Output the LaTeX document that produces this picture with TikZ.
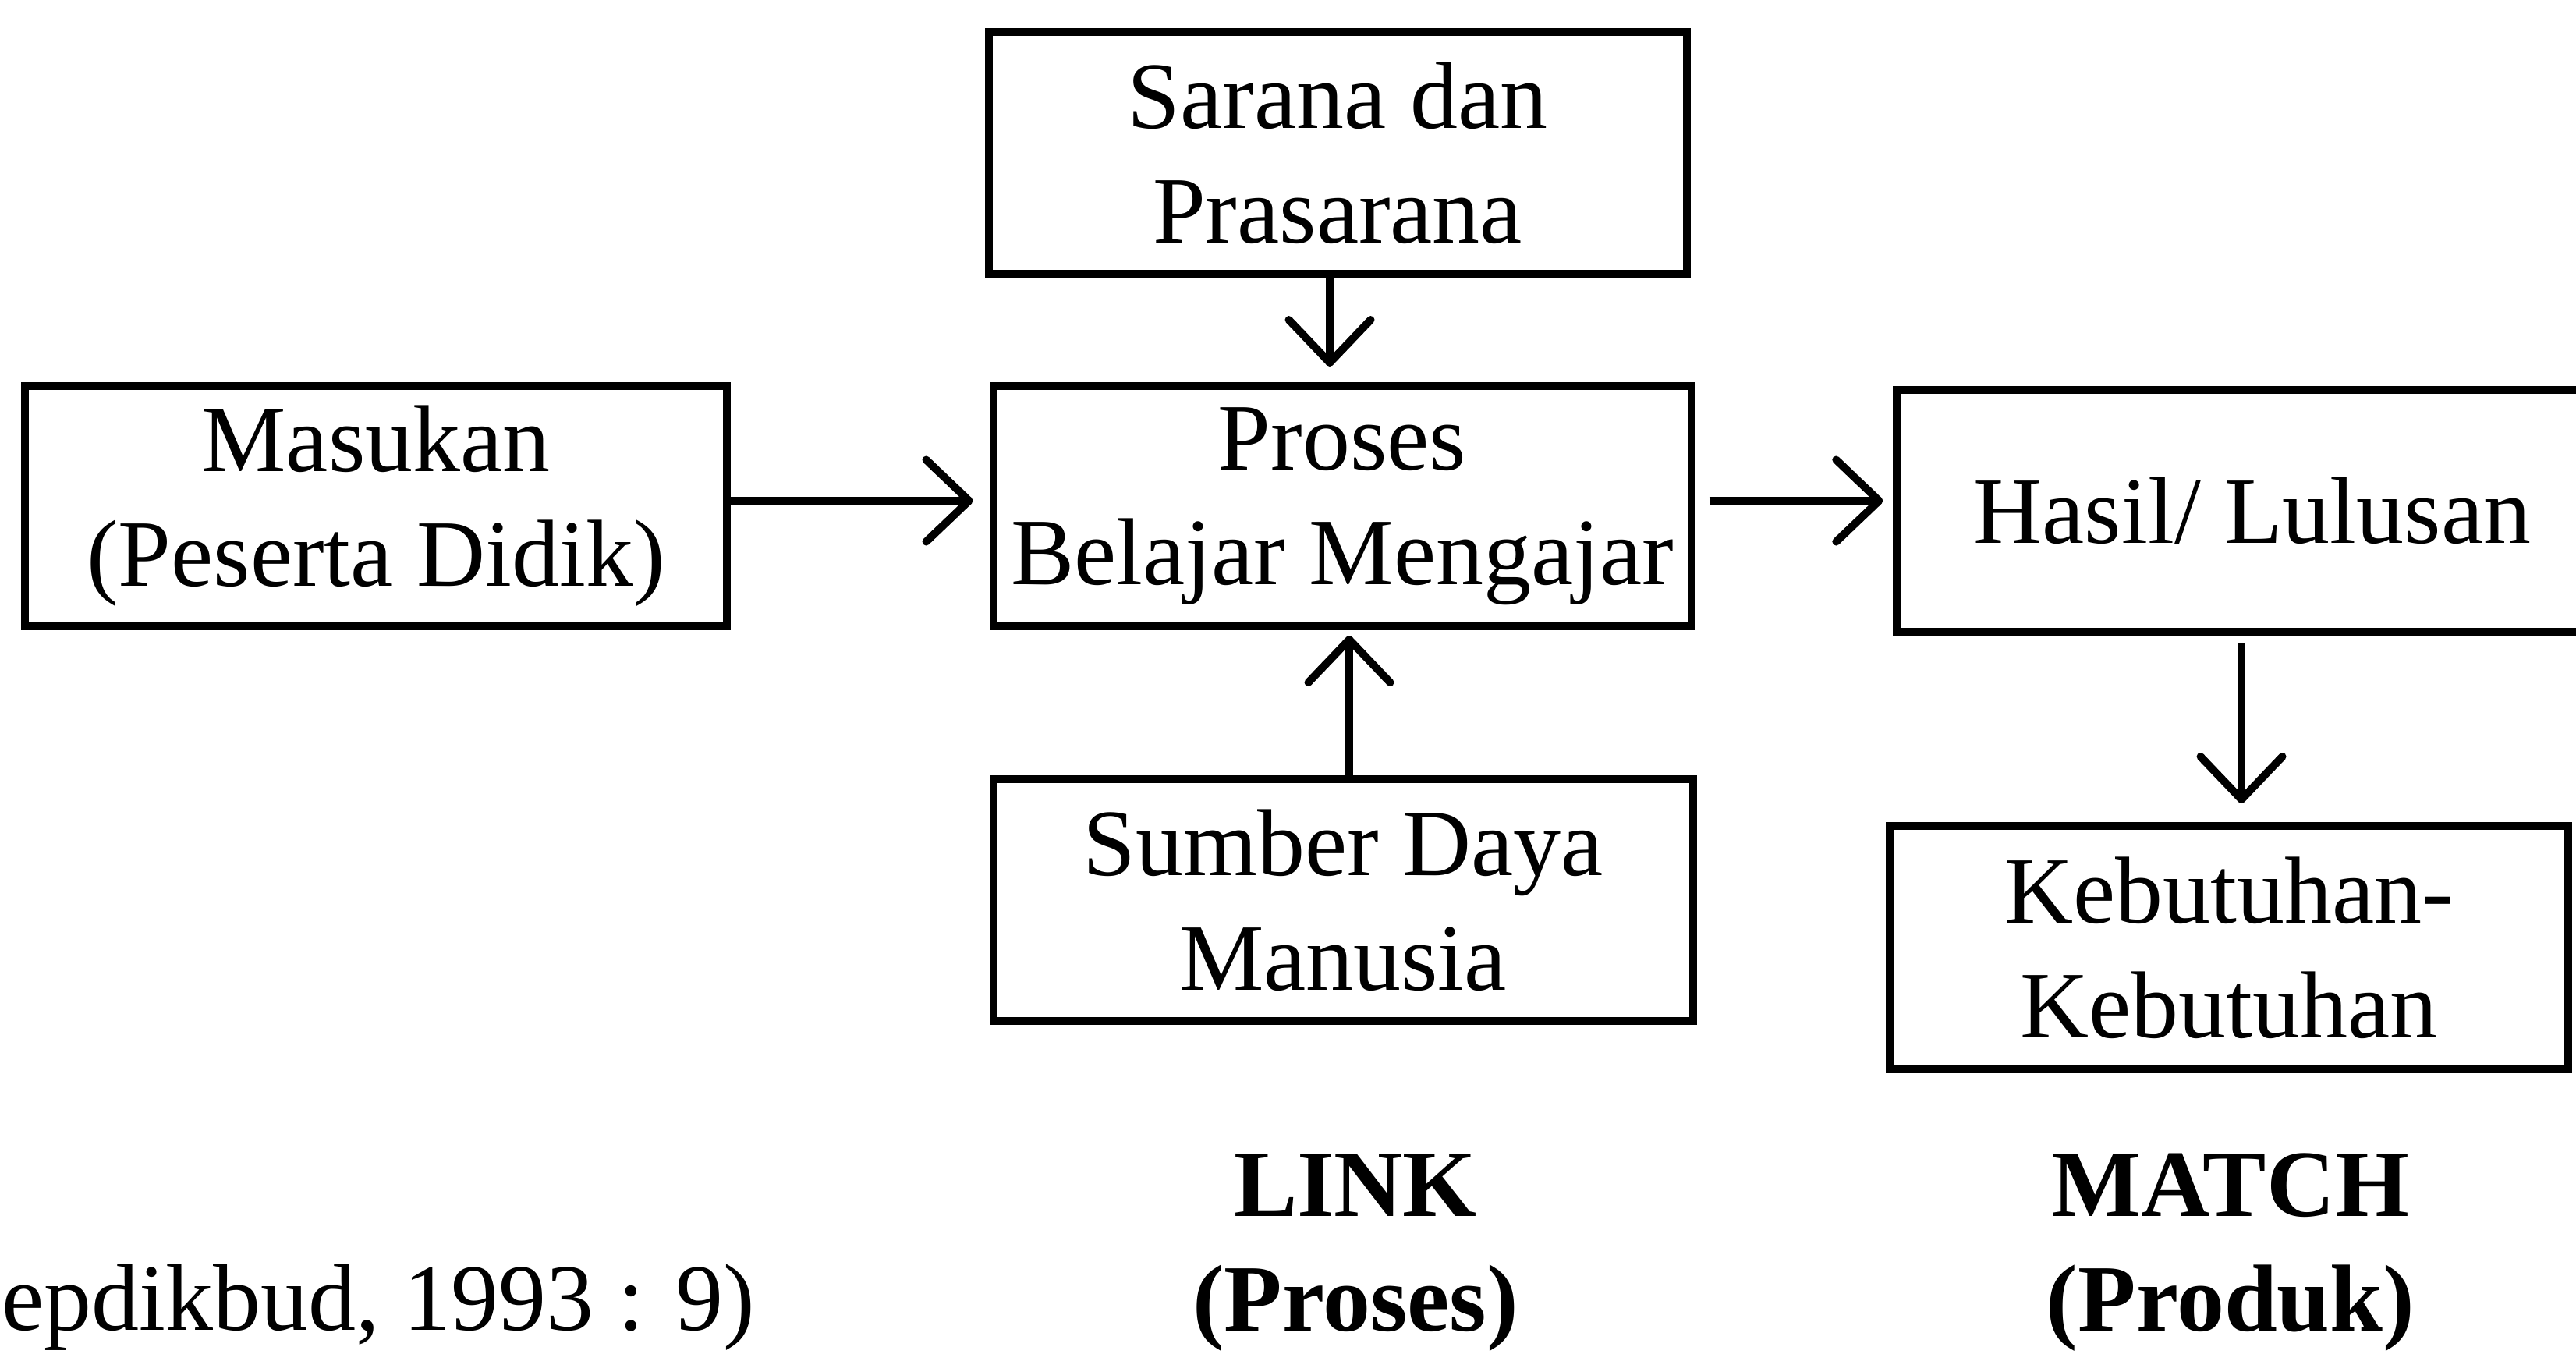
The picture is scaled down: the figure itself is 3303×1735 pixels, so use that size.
\documentclass[tikz,border=0pt]{standalone}
\usepackage{fontspec}
\setmainfont{Liberation Serif}
\usetikzlibrary{arrows.meta}
\tikzset{
  box/.style={draw, line width=1mm, inner sep=0pt, align=center,
    font=\fontsize{34.7pt}{41.8pt}\selectfont},
  openbox/.style={inner sep=0pt, align=center,
    font=\fontsize{34.7pt}{41.8pt}\selectfont},
  edge/.style={line width=1mm, line join=miter},
  lbl/.style={inner sep=0pt, align=center,
    font=\fontsize{34.7pt}{41.8pt}\selectfont\bfseries},
  note/.style={inner sep=0pt, font=\fontsize{34.7pt}{41.8pt}\selectfont},
  arr/.style={line width=1mm, -{Straight Barb[length=5.5mm,width=10.5mm,line cap=round,line join=round]}}
}
\begin{document}
\begin{tikzpicture}[x=0.1mm,y=-0.1mm]
\useasboundingbox (0,0) rectangle (3303,1735);
% boxes
\node[box, minimum width=90mm, minimum height=30.8mm] (masuk) at (482,649) {Masukan\\(Peserta Didik)};
\node[box, minimum width=89.5mm, minimum height=31mm] (sarana) at (1715,196) {Sarana dan\\Prasarana};
\node[box, minimum width=89.5mm, minimum height=30.8mm] (proses) at (1721,649) {Proses\\Belajar Mengajar};
\node[box, minimum width=89.7mm, minimum height=31mm] (sumber) at (1722,1154) {Sumber Daya\\Manusia};
\node[openbox, minimum width=87mm, minimum height=30.8mm] (hasil) at (2868,655) {\hspace*{4mm}Hasil/ Lulusan};
\draw[edge] (hasil.north east) -- (hasil.north west) -- (hasil.south west) -- (hasil.south east);
\node[box, minimum width=87mm, minimum height=31.2mm] (kebut) at (2858,1215) {Kebutuhan-\\Kebutuhan};
% labels
\node[lbl] (link) at (1738,1606) {LINK\\(Proses)};
\node[lbl] (match) at (2860,1606) {MATCH\\(Produk)};
\node[note, anchor=base west] (src) at (2,1705) {epdikbud, 1993 : 9)};
% connectors
\draw[arr, shorten >=2.1mm] ([yshift=0.7mm]masuk.east) -- ([yshift=0.7mm]masuk.east -| proses.west);
\draw[arr, shorten <=1.8mm, shorten >=1.8mm] ([yshift=0.7mm]proses.east) -- ([yshift=0.7mm]proses.east -| hasil.west);
\draw[arr, shorten >=2mm] ([xshift=-1mm]sarana.south) -- ([xshift=-1mm]sarana.south |- proses.north);
\draw[arr, shorten >=0.7mm] ([xshift=0.8mm]sumber.north) -- ([xshift=0.8mm]sumber.north |- proses.south);
\draw[arr, shorten <=1.4mm, shorten >=2.4mm] ([xshift=0.6mm]hasil.south) -- ([xshift=0.6mm]hasil.south |- kebut.north);
\end{tikzpicture}
\end{document}
